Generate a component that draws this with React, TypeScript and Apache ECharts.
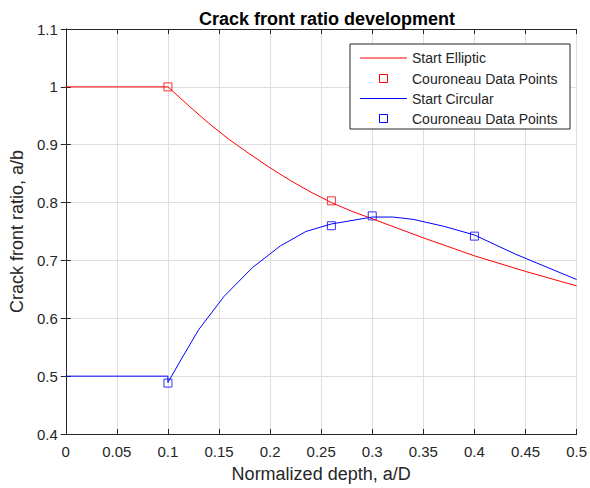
import React, { useEffect, useRef } from "react";
import * as echarts from "echarts";

const xTicks = [0, 0.05, 0.1, 0.15, 0.2, 0.25, 0.3, 0.35, 0.4, 0.45, 0.5];
const yTicks = [0.4, 0.5, 0.6, 0.7, 0.8, 0.9, 1.0, 1.1];

const ellipticX = [0, 0.1, 0.12, 0.14, 0.16, 0.18, 0.2, 0.22, 0.24, 0.26, 0.28, 0.3, 0.35, 0.4, 0.45, 0.5];
const ellipticY = [1.0, 1.0, 0.968, 0.937, 0.909, 0.884, 0.86, 0.838, 0.818, 0.8, 0.785, 0.772, 0.739, 0.708, 0.681, 0.656];

const circularX = [0, 0.1, 0.1, 0.115, 0.13, 0.155, 0.183, 0.21, 0.235, 0.26, 0.3, 0.32, 0.34, 0.37, 0.4, 0.44, 0.5];
const circularY = [0.5, 0.5, 0.489, 0.535, 0.58, 0.638, 0.688, 0.725, 0.75, 0.763, 0.775, 0.775, 0.771, 0.759, 0.744, 0.711, 0.667];

const ellipticPtsX = [0.1, 0.26];
const ellipticPtsY = [1.0, 0.803];
const circularPtsX = [0.1, 0.26, 0.3, 0.4];
const circularPtsY = [0.488, 0.76, 0.777, 0.742];

const legendItems = ["Start Elliptic", "Couroneau Data Points", "Start Circular", "Couroneau Data Points"];

const FONT = "'Liberation Sans', Arial, Helvetica, sans-serif";
const AXC = "#262626";

function zip(xs: number[], ys: number[]) {
  return xs.map((x, i) => [x, ys[i]]);
}

export default function App() {
  const ref = useRef<HTMLDivElement>(null);
  useEffect(() => {
    document.body.style.margin = "0";
    const chart = echarts.init(ref.current!, null, { renderer: "svg" });
    const grid = { left: 65, right: 10, top: 29, bottom: 52 };
    const axisCommon = {
      axisLine: { show: true, lineStyle: { color: AXC, width: 1 } },
      axisTick: { show: true, inside: true, length: 5, lineStyle: { color: AXC } },
    };
    const legendColors = ["#ff0000", "#ff0000", "#0000ff", "#0000ff"];
    const legendGraphic: any[] = [
      {
        type: "rect",
        shape: { x: 350, y: 44, width: 220, height: 85 },
        style: { fill: "#ffffff", stroke: AXC, lineWidth: 1 },
        z: 100,
      },
    ];
    const rowY = [58, 78.5, 98.5, 118.5];
    legendItems.forEach((t, i) => {
      if (i % 2 === 0) {
        legendGraphic.push({
          type: "line",
          shape: { x1: 360, y1: rowY[i], x2: 407, y2: rowY[i] },
          style: { stroke: legendColors[i], lineWidth: 1 },
          z: 101,
        });
      } else {
        legendGraphic.push({
          type: "rect",
          shape: { x: 379.5, y: rowY[i] - 4, width: 8, height: 8 },
          style: { fill: "none", stroke: legendColors[i], lineWidth: 1 },
          z: 101,
        });
      }
      legendGraphic.push({
        type: "text",
        x: 412,
        y: rowY[i],
        style: { text: t, fill: AXC, font: `14px ${FONT}`, textVerticalAlign: "middle" },
        z: 101,
      });
    });

    chart.setOption({
      animation: false,
      backgroundColor: "#ffffff",
      textStyle: { fontFamily: FONT },
      title: {
        text: "Crack front ratio development",
        left: 322,
        top: 5,
        textAlign: "center",
        textStyle: { fontSize: 18, fontWeight: "bold", color: "#000", fontFamily: FONT },
      },
      grid,
      xAxis: [
        {
          type: "value",
          min: 0,
          max: 0.5,
          interval: 0.05,
          name: "Normalized depth, a/D",
          nameLocation: "middle",
          nameGap: 31,
          nameTextStyle: { fontSize: 18, color: AXC, fontFamily: FONT },
          ...axisCommon,
          axisLabel: {
            color: AXC,
            fontSize: 15,
            margin: 10,
            fontFamily: FONT,
            formatter: (v: number) => String(+v.toFixed(2)),
            customValues: xTicks,
          },
          splitLine: { show: true, lineStyle: { color: "#dfdfdf", width: 1 } },
        },
        {
          type: "value",
          position: "top",
          min: 0,
          max: 0.5,
          interval: 0.05,
          ...axisCommon,
          axisLabel: { show: false },
          splitLine: { show: false },
        },
      ],
      yAxis: [
        {
          type: "value",
          min: 0.4,
          max: 1.1,
          interval: 0.1,
          name: "Crack front ratio, a/b",
          nameLocation: "middle",
          nameGap: 33,
          nameTextStyle: { fontSize: 18, color: AXC, fontFamily: FONT },
          ...axisCommon,
          axisLabel: {
            color: AXC,
            fontSize: 15,
            margin: 8,
            fontFamily: FONT,
            formatter: (v: number) => String(+v.toFixed(1)),
            customValues: yTicks,
          },
          splitLine: { show: true, lineStyle: { color: "#dfdfdf", width: 1 } },
        },
        {
          type: "value",
          position: "right",
          min: 0.4,
          max: 1.1,
          interval: 0.1,
          ...axisCommon,
          axisLabel: { show: false },
          splitLine: { show: false },
        },
      ],
      series: [
        {
          name: "Start Elliptic",
          type: "line",
          data: zip(ellipticX, ellipticY),
          showSymbol: false,
          lineStyle: { color: "#ff0000", width: 1 },
          itemStyle: { color: "#ff0000" },
        },
        {
          name: "Couroneau Data Points (elliptic)",
          type: "scatter",
          data: zip(ellipticPtsX, ellipticPtsY),
          symbol: "rect",
          symbolSize: 8,
          itemStyle: { color: "rgba(0,0,0,0)", borderColor: "#ff0000", borderWidth: 1 },
        },
        {
          name: "Start Circular",
          type: "line",
          data: zip(circularX, circularY),
          showSymbol: false,
          lineStyle: { color: "#0000ff", width: 1 },
          itemStyle: { color: "#0000ff" },
        },
        {
          name: "Couroneau Data Points (circular)",
          type: "scatter",
          data: zip(circularPtsX, circularPtsY),
          symbol: "rect",
          symbolSize: 8,
          itemStyle: { color: "rgba(0,0,0,0)", borderColor: "#0000ff", borderWidth: 1 },
        },
      ],
      graphic: legendGraphic,
    });
    return () => chart.dispose();
  }, []);
  return <div ref={ref} style={{ width: 590, height: 488 }} />;
}
